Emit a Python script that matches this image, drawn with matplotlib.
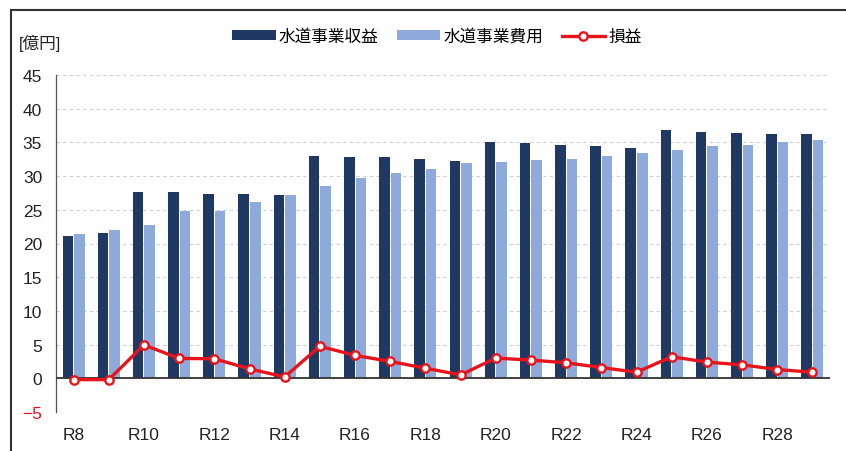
import numpy as np
import matplotlib.pyplot as plt
from matplotlib.lines import Line2D

plt.rcParams['font.family'] = ['Liberation Sans', 'Noto Sans CJK JP']

years = ["R8", "R9", "R10", "R11", "R12", "R13", "R14", "R15", "R16", "R17", "R18",
         "R19", "R20", "R21", "R22", "R23", "R24", "R25", "R26", "R27", "R28", "R29"]
revenue = [21.1, 21.6, 27.7, 27.7, 27.4, 27.4, 27.2, 33.0, 32.8, 32.8, 32.5,
           32.3, 35.0, 34.9, 34.6, 34.4, 34.1, 36.8, 36.6, 36.4, 36.2, 36.2]
cost = [21.35, 22.0, 22.7, 24.8, 24.8, 26.1, 27.2, 28.6, 29.7, 30.4, 31.0,
        31.9, 32.1, 32.4, 32.6, 33.0, 33.5, 33.9, 34.4, 34.6, 35.1, 35.3]
profit = [-0.2, -0.2, 4.95, 2.95, 2.9, 1.4, 0.2, 4.75, 3.4, 2.5, 1.5,
          0.5, 3.0, 2.7, 2.3, 1.6, 0.9, 3.2, 2.4, 2.0, 1.3, 0.9]

navy = "#1f3864"
light = "#8eaadb"
red = "#e8141c"

fig = plt.figure(figsize=(8.46, 4.52), dpi=100)
ax = fig.add_axes([56 / 846, 1 - 413 / 452, 774 / 846, 337 / 452])

x = np.arange(len(years))
w = 0.3
b1 = ax.bar(x - 0.165, revenue, w, color=navy, label="水道事業収益", zorder=2)
b2 = ax.bar(x + 0.165, cost, w, color=light, label="水道事業費用", zorder=2)
l1, = ax.plot(x, profit, "-o", color=red, lw=2.4, markersize=6, markerfacecolor="white",
              markeredgecolor=red, markeredgewidth=1.7, label="損益", zorder=4)

ax.axhline(0, color="#333333", lw=1.3, zorder=3)
ax.set_xlim(-0.5, len(years) - 0.5)
ax.set_ylim(-5, 45)
ax.set_yticks(np.arange(-5, 46, 5))
ax.yaxis.grid(True, ls=(0, (3, 3)), color="#cfcfcf", lw=0.8, zorder=0)

ax.set_xticks(x[::2])
ax.set_xticklabels(years[::2])
ax.tick_params(axis="both", length=0, labelsize=12.5, colors="#222222")
ax.tick_params(axis="x", pad=11)
ax.tick_params(axis="y", pad=10)
for lab in ax.get_yticklabels():
    if lab.get_text().replace("\u2212", "-") == "-5":
        lab.set_color(red)

for s in ["top", "right", "bottom"]:
    ax.spines[s].set_visible(False)
ax.spines["left"].set_color("#555555")
ax.spines["left"].set_linewidth(0.9)

fig.text(19 / 846, 1 - 43 / 452, "[億円]", fontsize=12, va="center", ha="left", color="#222222")

fig.legend([b1, b2, l1], ["水道事業収益", "水道事業費用", "損益"], loc="center",
           bbox_to_anchor=(437 / 846, 1 - 37 / 452), ncol=3, frameon=False,
           fontsize=12, handlelength=2.6, handleheight=0.5, columnspacing=1.1, handletextpad=0.2)

# frame of the cropped screenshot
fig.add_artist(Line2D([11 / 846, 1], [1 - 11 / 452, 1 - 11 / 452], color="#333333", lw=1.5,
                      transform=fig.transFigure))
fig.add_artist(Line2D([11 / 846, 11 / 846], [0, 1 - 11 / 452], color="#333333", lw=1.5,
                      transform=fig.transFigure))

plt.savefig("out.png", dpi=100)
